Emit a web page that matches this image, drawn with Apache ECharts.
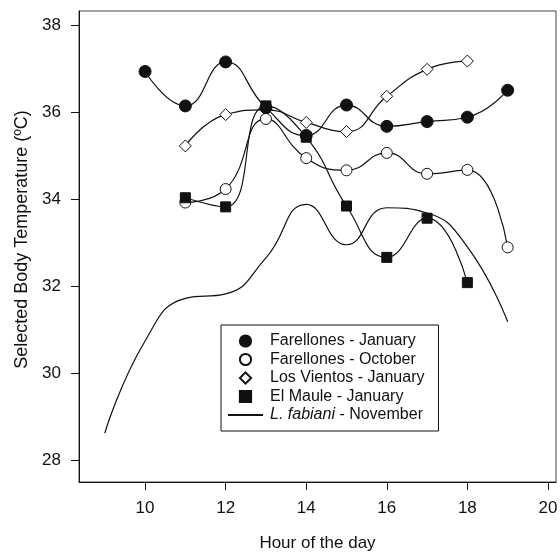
<!DOCTYPE html>
<html>
<head>
<meta charset="utf-8">
<script src="https://cdn.jsdelivr.net/npm/echarts@6/dist/echarts.min.js"></script>
<style>
html, body { margin: 0; padding: 0; background: #fff; }
#chart { width: 560px; height: 552px; }
</style>
</head>
<body>
<div id="chart"></div>
<script>
// values (hour of day -> selected body temperature, degC)
const janHours = [10, 11, 12, 13, 14, 15, 16, 17, 18, 19]
const farellonesJan = [36.93, 36.14, 37.15, 36.1, 35.46, 36.16, 35.67, 35.78, 35.88, 36.5]

const octHours = [11, 12, 13, 14, 15, 16, 17, 18, 19]
const farellonesOct = [33.92, 34.23, 35.84, 34.94, 34.66, 35.06, 34.58, 34.67, 32.89]

const vientosHours = [11, 12, 13, 14, 15, 16, 17, 18]
const losVientos = [35.22, 35.94, 36.05, 35.76, 35.55, 36.36, 36.98, 37.17]

const mauleHours = [11, 12, 13, 14, 15, 16, 17, 18]
const elMaule = [34.03, 33.82, 36.14, 35.42, 33.84, 32.66, 33.56, 32.08]

const fabianiHours = [9, 10, 11, 12, 13, 14, 15, 16, 17, 18, 19]
const fabiani = [28.62, 30.74, 31.72, 31.82, 32.65, 33.88, 32.95, 33.8, 33.68, 32.9, 31.18]

const xTicks = [10, 12, 14, 16, 18, 20]
const yTicks = [28, 30, 32, 34, 36, 38]

const names = [
  'Farellones - January',
  'Farellones - October',
  'Los Vientos - January',
  'El Maule - January',
  'L. fabiani - November'
]

const font = 'Liberation Sans, Arial, sans-serif'
const ink = '#111'

function pairs(xs, ys) {
  return xs.map((x, i) => [x, ys[i]])
}

function markerSeries(name, xs, ys, symbol, size, fill) {
  return {
    name,
    type: 'line',
    data: pairs(xs, ys),
    smooth: 0.5,
    symbol,
    symbolSize: size,
    showAllSymbol: true,
    lineStyle: { color: ink, width: 1.2 },
    itemStyle: { color: fill, borderColor: ink, borderWidth: 1 },
    emphasis: { disabled: true }
  }
}

const chart = echarts.init(document.getElementById('chart'))

chart.setOption({
  backgroundColor: '#fff',
  animation: false,
  grid: {
    left: 79, right: 4, top: 11, bottom: 70,
    outerBoundsMode: 'none',
    show: true, borderColor: '#444', borderWidth: 1
  },
  xAxis: {
    type: 'value',
    min: 8.36,
    max: 20.2,
    name: 'Hour of the day',
    nameLocation: 'middle',
    nameGap: 53,
    nameTextStyle: { fontFamily: font, fontSize: 17, color: ink },
    axisLine: { lineStyle: { color: ink, width: 1 } },
    axisTick: { show: true, length: 8, customValues: xTicks, lineStyle: { color: ink } },
    axisLabel: { customValues: xTicks, margin: 18, fontFamily: font, fontSize: 17, color: ink },
    splitLine: { show: false }
  },
  yAxis: {
    type: 'value',
    min: 27.5,
    max: 38.32,
    name: 'Selected Body Temperature (ºC)',
    nameLocation: 'middle',
    nameGap: 42,
    // shift the title a little up, as in the figure
    nameTextStyle: { fontFamily: font, fontSize: 18, color: ink, padding: [0, 0, 0, 14] },
    axisLine: { show: true, lineStyle: { color: ink, width: 1 } },
    axisTick: { show: true, length: 8, customValues: yTicks, lineStyle: { color: ink } },
    axisLabel: { customValues: yTicks, margin: 18, fontFamily: font, fontSize: 17, color: ink },
    splitLine: { show: false }
  },
  legend: {
    orient: 'vertical',
    left: 221,
    top: 325,
    padding: [8, 14, 8, 6],
    itemWidth: 35,
    itemHeight: 14,
    itemGap: 2.5,
    borderColor: ink,
    borderWidth: 1,
    selectedMode: false,
    textStyle: {
      fontFamily: font, fontSize: 16, color: ink, padding: [0, 0, 0, 2],
      rich: { i: { fontFamily: font, fontSize: 16, fontStyle: 'italic', color: ink } }
    },
    formatter: name => name.startsWith('L. fabiani') ? '{i|L. fabiani} - November' : name,
    data: [
      { name: names[0], lineStyle: { opacity: 0 } },
      { name: names[1], lineStyle: { opacity: 0 } },
      { name: names[2], lineStyle: { opacity: 0 } },
      { name: names[3], lineStyle: { opacity: 0 } },
      { name: names[4], itemStyle: { opacity: 0 } }
    ]
  },
  series: [
    {
      name: names[4],
      type: 'line',
      data: pairs(fabianiHours, fabiani),
      smooth: 0.5,
      symbol: 'none',
      lineStyle: { color: ink, width: 1.2 },
      itemStyle: { color: ink },
      emphasis: { disabled: true }
    },
    markerSeries(names[2], vientosHours, losVientos, 'diamond', 12, '#fff'),
    markerSeries(names[1], octHours, farellonesOct, 'circle', 11, '#fff'),
    markerSeries(names[0], janHours, farellonesJan, 'circle', 12, ink),
    markerSeries(names[3], mauleHours, elMaule, 'rect', 10, ink)
  ]
})
</script>
</body>
</html>
